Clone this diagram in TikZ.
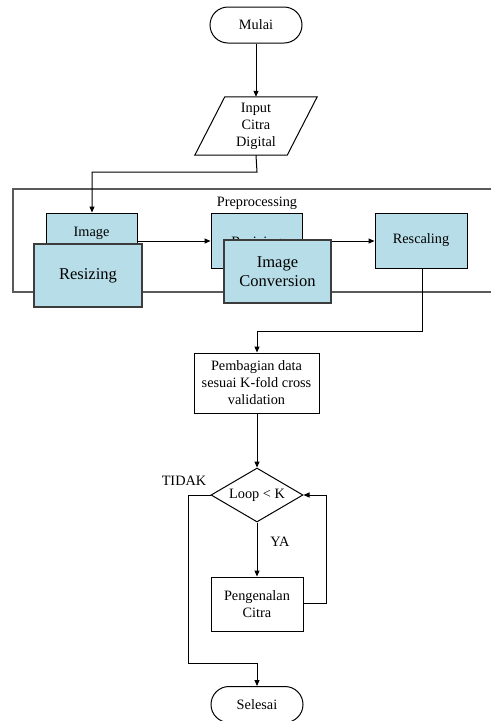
\documentclass[tikz,border=0pt]{standalone}
\usepackage{fontspec}
\setmainfont{Liberation Serif}
\usetikzlibrary{arrows.meta,shapes.geometric}
\definecolor{boxblue}{RGB}{183,222,232}
\definecolor{framegray}{RGB}{90,90,90}
\definecolor{frontedge}{RGB}{60,60,60}
\tikzset{
  txt/.style={font=\fontsize{14.3}{17}\selectfont, align=center, inner sep=0pt},
  plainbox/.style={draw, line width=1pt, txt, minimum width=#1},
  term/.style={draw, line width=1pt, rounded corners=18pt, minimum width=92pt, minimum height=36pt, txt},
  backbox/.style={draw, line width=1pt, fill=boxblue, minimum width=91pt, minimum height=55pt, txt},
  frontbox/.style={draw=frontedge, line width=2pt, fill=boxblue, inner sep=0pt, align=center,
     font=\fontsize{16.5}{18.5}\selectfont},
  conn/.style={line width=1pt},
  arr/.style={line width=1pt, -{Triangle[length=6pt,width=5pt]}},
  lbl/.style={txt, font=\fontsize{14.3}{17}\selectfont}
}
\begin{document}
\begin{tikzpicture}[x=1pt, y=-1pt]
\useasboundingbox (0,0) rectangle (491,721);
% Start
\node[term] (mulai) at (256,25) {Mulai};
% Input
\node[txt, minimum width=92pt, minimum height=58pt] (input) at (256,126) {Input\\Citra\\Digital};
\draw[line width=1pt] ([xshift=15pt]input.north west) -- ([xshift=15pt]input.north east)
   -- ([xshift=-15pt]input.south east) -- ([xshift=-15pt]input.south west) -- cycle;
\draw[arr] (mulai) -- (input.north);
% Preprocessing frame
\coordinate (fr1) at (491,189);
\coordinate (fr2) at (13,189);
\coordinate (fr3) at (13,292);
\coordinate (fr4) at (491,292);
\draw[draw=framegray, line width=1.2pt] (fr1) -- (fr2) -- (fr3) -- (fr4);
\node[lbl] (pre) at (257,203) {Preprocessing};
% back boxes
\node[backbox] (b1) at (91.5,240.5) {};
\node[lbl] (b1t) at (91.5,233) {Image};
\node[backbox] (b2) at (256.5,240.5) {};
\node[lbl] (b2t) at (256.5,243) {Resizing};
\node[backbox, minimum width=92pt] (b3) at (421,240.5) {Rescaling};
% arrows inside preprocessing
\coordinate (c1) at (257,172);
\coordinate (c2) at (92,172);
\draw[arr] (input.south) -- (c1) -- (c2) -- (b1.north -| c2);
\draw[arr] (b1.east |- 0,241) -- (b2.west |- 0,241);
\draw[arr] (b2.east |- 0,241) -- (b3.west |- 0,241);
% front boxes
\node[frontbox, minimum width=108pt, minimum height=63pt] (f1) at (88,275.5) {Resizing};
\node[frontbox, minimum width=107pt, minimum height=63pt] (f2) at (277.5,271.5) {Image\\Conversion};
% Pembagian
\node[plainbox=125pt, minimum height=60pt] (bagi) at (256.5,383) {Pembagian data\\sesuai K-fold cross\\validation};
\coordinate (c3) at (422,331);
\coordinate (c4) at (257,331);
\draw[arr] (b3.south -| c3) -- (c3) -- (c4) -- (bagi.north -| c4);
% Decision
\node[draw, line width=1pt, diamond, aspect=1.7, minimum width=92pt, minimum height=54pt, txt] (loop) at (257,495) {Loop < K};
\draw[arr] (bagi.south -| loop) -- (loop.north);
% Pengenalan
\node[plainbox=92pt, minimum height=54pt] (kenal) at (257,604) {Pengenalan\\Citra};
\draw[arr] (loop.south) -- (kenal.north);
\node[lbl] (ya) at (280,542) {YA};
\coordinate (c5) at (326,603);
\coordinate (c6) at (326,495);
\draw[arr] (kenal.east |- c5) -- (c5) -- (c6) -- (loop.east);
% End
\node[term] (selesai) at (257,704.5) {Selesai};
\coordinate (c7) at (188,495);
\coordinate (c8) at (188,663);
\coordinate (c9) at (257,663);
\draw[arr] (loop.west) -- (c7) -- (c8) -- (c9) -- (selesai.north);
\node[lbl] (tidak) at (184,481) {TIDAK};
\end{tikzpicture}
\end{document}
